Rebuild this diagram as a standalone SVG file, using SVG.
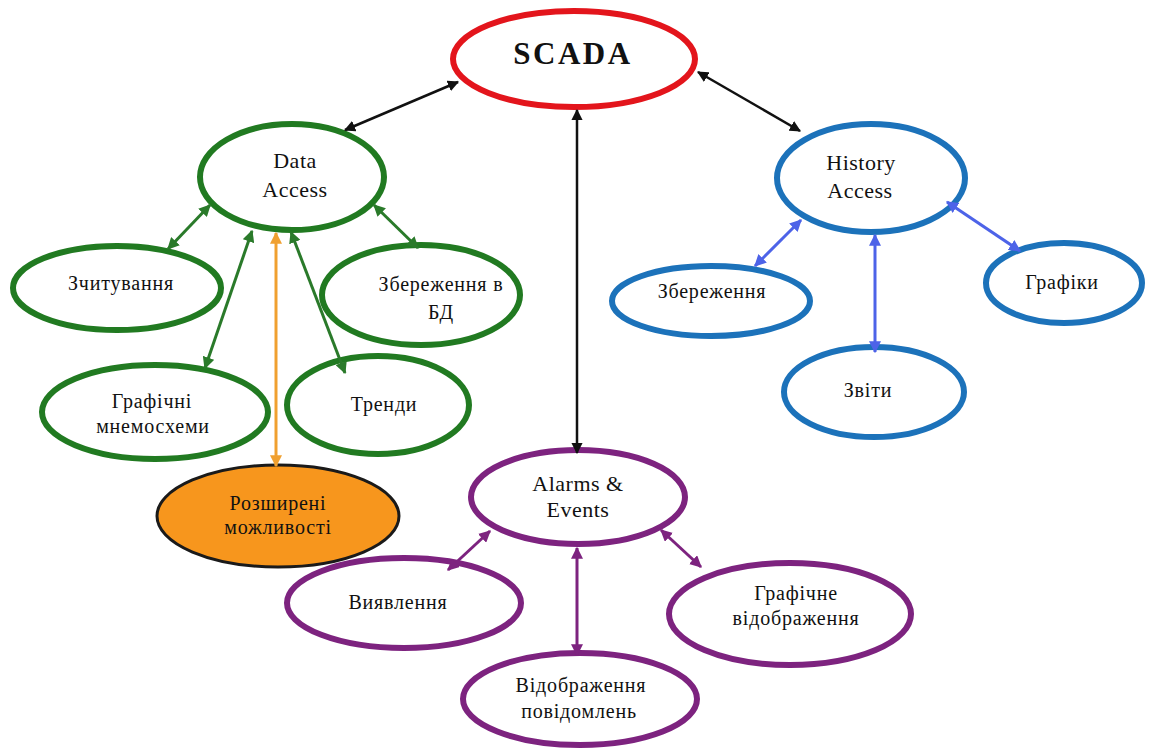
<svg xmlns="http://www.w3.org/2000/svg" width="1149" height="754" viewBox="0 0 1149 754">
  <defs>
    <marker id="ah-black" viewBox="0 0 10 10" refX="9" refY="5" markerWidth="4.5" markerHeight="4.5" orient="auto-start-reverse">
      <path d="M0,0 L10,5 L0,10 z" fill="#111"/>
    </marker>
    <marker id="ah-green" viewBox="0 0 10 10" refX="9" refY="5" markerWidth="4" markerHeight="4" orient="auto-start-reverse">
      <path d="M0,0 L10,5 L0,10 z" fill="#2a7a2a"/>
    </marker>
    <marker id="ah-orange" viewBox="0 0 10 10" refX="9" refY="5" markerWidth="4" markerHeight="4" orient="auto-start-reverse">
      <path d="M0,0 L10,5 L0,10 z" fill="#f0a030"/>
    </marker>
    <marker id="ah-blue" viewBox="0 0 10 10" refX="9" refY="5" markerWidth="4" markerHeight="4" orient="auto-start-reverse">
      <path d="M0,0 L10,5 L0,10 z" fill="#4d63e8"/>
    </marker>
    <marker id="ah-purple" viewBox="0 0 10 10" refX="9" refY="5" markerWidth="4" markerHeight="4" orient="auto-start-reverse">
      <path d="M0,0 L10,5 L0,10 z" fill="#7d237f"/>
    </marker>
  </defs>
  <style>
    .node { fill: #ffffff; stroke-width: 6; }
    .red { stroke: #e3151c; }
    .green { stroke: #217a21; }
    .blue { stroke: #1c72ba; }
    .purple { stroke: #7d237f; }
    .orange { fill: #f7961d; stroke: #1a1a1a; stroke-width: 3; }
    text { fill: #111; text-anchor: middle; }
    .lbl { font-size: 20px; letter-spacing: 0.8px; }
    .lat { font-size: 22px; letter-spacing: 0.5px; }
    .title { font-size: 31px; font-weight: bold; letter-spacing: 2.5px; }
    .c { fill: none; }
    .c-black { stroke: #111; stroke-width: 2.5; marker-start: url(#ah-black); marker-end: url(#ah-black); }
    .c-green { stroke: #2a7a2a; stroke-width: 3; marker-start: url(#ah-green); marker-end: url(#ah-green); }
    .c-orange { stroke: #f0a030; stroke-width: 3; marker-start: url(#ah-orange); marker-end: url(#ah-orange); }
    .c-blue { stroke: #4d63e8; stroke-width: 3; marker-start: url(#ah-blue); marker-end: url(#ah-blue); }
    .c-purple { stroke: #7d237f; stroke-width: 3; marker-start: url(#ah-purple); marker-end: url(#ah-purple); }
  </style>
  <rect width="1149" height="754" fill="#ffffff"/>

  <g font-family="'Liberation Serif', 'Times New Roman', 'DejaVu Serif', serif">
  <g id="scada">
    <ellipse class="node red" cx="574" cy="59" rx="121" ry="48"/>
    <text class="title" x="573" y="64">SCADA</text>
  </g>

  <g id="data-access">
    <ellipse class="node green" cx="292" cy="177" rx="92" ry="53"/>
    <text class="lat" x="295" y="168">Data</text>
    <text class="lat" x="295" y="197">Access</text>
  </g>
  <g id="zchytuvannia">
    <ellipse class="node green" cx="117" cy="288" rx="104" ry="42"/>
    <text class="lbl" x="121" y="290">Зчитування</text>
  </g>
  <g id="zberezhennia-bd">
    <ellipse class="node green" cx="421" cy="295" rx="99" ry="50"/>
    <text class="lbl" x="441" y="291">Збереження в</text>
    <text class="lbl" x="441" y="319">БД</text>
  </g>
  <g id="hrafichni-mnemoskhemy">
    <ellipse class="node green" cx="155" cy="412" rx="113" ry="47"/>
    <text class="lbl" x="152" y="408">Графічні</text>
    <text class="lbl" x="153" y="433">мнемосхеми</text>
  </g>
  <g id="trendy">
    <ellipse class="node green" cx="378" cy="405" rx="91" ry="49"/>
    <text class="lbl" x="384" y="411">Тренди</text>
  </g>
  <g id="rozshyreni">
    <ellipse class="orange" cx="278" cy="516" rx="121" ry="51"/>
    <text class="lbl" x="278" y="510">Розширені</text>
    <text class="lbl" x="278" y="534">можливості</text>
  </g>

  <g id="history-access">
    <ellipse class="node blue" cx="871" cy="178" rx="94" ry="54"/>
    <text class="lat" x="861" y="170">History</text>
    <text class="lat" x="860" y="198">Access</text>
  </g>
  <g id="zberezhennia">
    <ellipse class="node blue" cx="711" cy="301" rx="99" ry="35"/>
    <text class="lbl" x="712" y="298">Збереження</text>
  </g>
  <g id="zvity">
    <ellipse class="node blue" cx="874" cy="392" rx="90" ry="45"/>
    <text class="lbl" x="868" y="397">Звіти</text>
  </g>
  <g id="hrafiky">
    <ellipse class="node blue" cx="1064" cy="283" rx="78" ry="40"/>
    <text class="lbl" x="1062" y="289">Графіки</text>
  </g>

  <g id="alarms-events">
    <ellipse class="node purple" cx="578" cy="497" rx="107" ry="47"/>
    <text class="lat" x="578" y="491">Alarms &amp;</text>
    <text class="lat" x="578" y="517">Events</text>
  </g>
  <g id="vyiavlennia">
    <ellipse class="node purple" cx="404" cy="603" rx="117" ry="45"/>
    <text class="lbl" x="398" y="609">Виявлення</text>
  </g>
  <g id="vidobrazhennia-povidomlen">
    <ellipse class="node purple" cx="580" cy="699" rx="117" ry="46"/>
    <text class="lbl" x="581" y="692">Відображення</text>
    <text class="lbl" x="579" y="718">повідомлень</text>
  </g>
  <g id="hrafichne-vidobrazhennia">
    <ellipse class="node purple" cx="790" cy="614" rx="121" ry="51"/>
    <text class="lbl" x="796" y="600">Графічне</text>
    <text class="lbl" x="796" y="625">відображення</text>
  </g>
  </g>

  <g id="connectors">
    <line class="c c-black" x1="458" y1="82" x2="345" y2="130"/>
    <line class="c c-black" x1="698" y1="72" x2="800" y2="131"/>
    <line class="c c-black" x1="577" y1="110" x2="577" y2="453"/>

    <line class="c c-green" x1="210" y1="205" x2="168" y2="249"/>
    <line class="c c-green" x1="252" y1="231" x2="205" y2="368"/>
    <line class="c c-orange" x1="276" y1="233" x2="276" y2="466"/>
    <line class="c c-green" x1="291" y1="232" x2="345" y2="373"/>
    <line class="c c-green" x1="374" y1="205" x2="418" y2="248"/>

    <line class="c c-blue" x1="801" y1="220" x2="755" y2="266"/>
    <line class="c c-blue" x1="875" y1="235" x2="875" y2="352"/>
    <line class="c c-blue" x1="947" y1="202" x2="1020" y2="251"/>

    <line class="c c-purple" x1="490" y1="531" x2="448" y2="570"/>
    <line class="c c-purple" x1="577" y1="548" x2="577" y2="655"/>
    <line class="c c-purple" x1="661" y1="530" x2="701" y2="567"/>
  </g>
</svg>
